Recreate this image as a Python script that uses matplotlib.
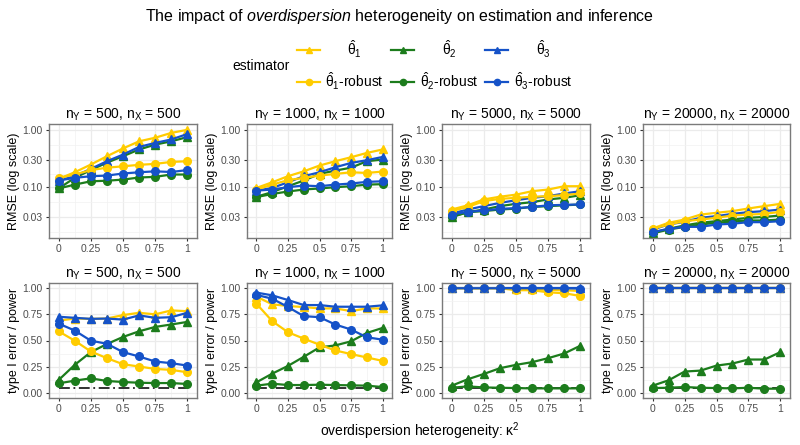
import matplotlib.pyplot as plt
from matplotlib.lines import Line2D
from matplotlib.ticker import FixedLocator, NullFormatter

plt.rcParams["font.family"] = ["Liberation Sans", "DejaVu Sans"]
plt.rcParams["mathtext.fontset"] = "custom"
plt.rcParams["mathtext.rm"] = "Liberation Sans"
plt.rcParams["mathtext.it"] = "Liberation Sans:italic"
plt.rcParams["mathtext.bf"] = "Liberation Sans:bold"

kappa2 = [0, 0.125, 0.25, 0.375, 0.5, 0.625, 0.75, 0.875, 1]
sample_sizes = [500, 1000, 5000, 20000]

estimators = [r"$\hat{\mathrm{\theta}}_1$", r"$\hat{\mathrm{\theta}}_2$", r"$\hat{\mathrm{\theta}}_3$",
              r"$\hat{\mathrm{\theta}}_1$-robust", r"$\hat{\mathrm{\theta}}_2$-robust",
              r"$\hat{\mathrm{\theta}}_3$-robust"]
colors = ["#FFCC00", "#1C7C1C", "#1552C8", "#FFCC00", "#1C7C1C", "#1552C8"]
markers = ["^", "^", "^", "o", "o", "o"]

# RMSE, order: theta1, theta2, theta3, theta1-robust, theta2-robust, theta3-robust
rmse_500 = [
    [0.14, 0.183, 0.25, 0.35, 0.48, 0.64, 0.74, 0.90, 1.02],
    [0.095, 0.146, 0.20, 0.27, 0.35, 0.46, 0.56, 0.64, 0.76],
    [0.131, 0.156, 0.21, 0.286, 0.374, 0.51, 0.60, 0.69, 0.86],
    [0.146, 0.167, 0.20, 0.22, 0.233, 0.247, 0.257, 0.278, 0.286],
    [0.095, 0.111, 0.127, 0.13, 0.136, 0.148, 0.152, 0.167, 0.167],
    [0.131, 0.146, 0.156, 0.16, 0.174, 0.183, 0.19, 0.185, 0.20],
]
rmse_1000 = [
    [0.097, 0.122, 0.156, 0.19, 0.24, 0.286, 0.336, 0.40, 0.46],
    [0.068, 0.082, 0.104, 0.131, 0.171, 0.196, 0.22, 0.286, 0.306],
    [0.087, 0.097, 0.122, 0.156, 0.183, 0.224, 0.267, 0.298, 0.34],
    [0.091, 0.111, 0.133, 0.146, 0.16, 0.171, 0.183, 0.178, 0.188],
    [0.067, 0.076, 0.084, 0.091, 0.095, 0.1, 0.104, 0.111, 0.113],
    [0.087, 0.091, 0.1, 0.107, 0.104, 0.111, 0.116, 0.124, 0.127],
]
rmse_5000 = [
    [0.0405, 0.048, 0.061, 0.068, 0.074, 0.085, 0.091, 0.104, 0.104],
    [0.030, 0.0364, 0.0405, 0.0465, 0.051, 0.0546, 0.061, 0.065, 0.0724],
    [0.0345, 0.0405, 0.0465, 0.053, 0.059, 0.065, 0.0695, 0.0775, 0.085],
    [0.038, 0.045, 0.0568, 0.0624, 0.065, 0.068, 0.0695, 0.0724, 0.0775],
    [0.030, 0.0364, 0.038, 0.0405, 0.042, 0.045, 0.0465, 0.048, 0.0497],
    [0.0331, 0.0369, 0.039, 0.0417, 0.0428, 0.045, 0.048, 0.049, 0.0497],
]
rmse_20000 = [
    [0.0188, 0.0237, 0.027, 0.033, 0.0355, 0.038, 0.0423, 0.0465, 0.051],
    [0.0158, 0.0186, 0.0213, 0.0237, 0.0253, 0.027, 0.029, 0.030, 0.0318],
    [0.018, 0.0221, 0.0247, 0.029, 0.031, 0.034, 0.0364, 0.038, 0.0405],
    [0.0186, 0.0221, 0.0253, 0.027, 0.029, 0.0318, 0.033, 0.034, 0.0369],
    [0.0154, 0.018, 0.0201, 0.0221, 0.0237, 0.025, 0.026, 0.026, 0.027],
    [0.0162, 0.0186, 0.0201, 0.0201, 0.0221, 0.0228, 0.0243, 0.0243, 0.0253],
]

# type I error / power, same order
power_500 = [
    [0.69, 0.71, 0.707, 0.71, 0.743, 0.765, 0.75, 0.788, 0.78],
    [0.122, 0.267, 0.389, 0.466, 0.534, 0.588, 0.63, 0.653, 0.678],
    [0.727, 0.717, 0.707, 0.71, 0.70, 0.74, 0.717, 0.723, 0.765],
    [0.588, 0.498, 0.395, 0.331, 0.273, 0.251, 0.228, 0.219, 0.196],
    [0.09, 0.116, 0.138, 0.113, 0.103, 0.096, 0.093, 0.093, 0.084],
    [0.662, 0.595, 0.498, 0.469, 0.389, 0.347, 0.299, 0.283, 0.26],
]
power_1000 = [
    [0.92, 0.846, 0.83, 0.82, 0.807, 0.807, 0.781, 0.807, 0.807],
    [0.10, 0.183, 0.257, 0.344, 0.434, 0.453, 0.492, 0.572, 0.62],
    [0.958, 0.932, 0.887, 0.839, 0.839, 0.823, 0.823, 0.823, 0.836],
    [0.852, 0.685, 0.579, 0.518, 0.46, 0.405, 0.37, 0.338, 0.305],
    [0.068, 0.087, 0.074, 0.074, 0.077, 0.074, 0.071, 0.068, 0.055],
    [0.936, 0.90, 0.82, 0.733, 0.723, 0.653, 0.605, 0.531, 0.508],
]
power_5000 = [
    [1.0, 1.0, 1.0, 1.0, 0.99, 0.99, 0.984, 0.981, 0.974],
    [0.068, 0.129, 0.18, 0.235, 0.267, 0.293, 0.331, 0.376, 0.45],
    [1.0, 1.0, 1.0, 1.0, 1.0, 1.0, 1.0, 1.0, 1.0],
    [1.0, 1.0, 1.0, 1.0, 0.981, 0.981, 0.961, 0.952, 0.926],
    [0.048, 0.061, 0.051, 0.048, 0.045, 0.042, 0.042, 0.042, 0.042],
    [1.0, 1.0, 1.0, 1.0, 1.0, 1.0, 1.0, 1.0, 0.997],
]
power_20000 = [
    [1.0, 1.0, 1.0, 1.0, 1.0, 1.0, 1.0, 1.0, 1.0],
    [0.068, 0.119, 0.203, 0.212, 0.26, 0.28, 0.318, 0.318, 0.389],
    [1.0, 1.0, 1.0, 1.0, 1.0, 1.0, 1.0, 1.0, 1.0],
    [1.0, 1.0, 1.0, 1.0, 1.0, 1.0, 1.0, 1.0, 1.0],
    [0.045, 0.048, 0.055, 0.048, 0.045, 0.042, 0.048, 0.039, 0.039],
    [1.0, 1.0, 1.0, 1.0, 1.0, 1.0, 1.0, 1.0, 1.0],
]
nominal_level = 0.05

rmse_panels = [rmse_500, rmse_1000, rmse_5000, rmse_20000]
power_panels = [power_500, power_1000, power_5000, power_20000]

W, H = 800, 445
fig = plt.figure(figsize=(W / 100, H / 100), dpi=100)

col_edges = [(49, 197), (247, 392), (442, 590), (643, 790)]
row_edges = {"rmse": (124, 238), "power": (283, 398)}


def make_axes(px_left, px_right, px_top, px_bottom):
    return fig.add_axes([px_left / W, 1 - px_bottom / H,
                         (px_right - px_left) / W, (px_bottom - px_top) / H])


def style_axes(ax, n):
    ax.set_facecolor("white")
    for spine in ax.spines.values():
        spine.set_color("#7a7a7a")
        spine.set_linewidth(1.0)
    ax.grid(True, which="major", color="#EBEBEB", linewidth=0.9)
    ax.grid(True, which="minor", color="#F2F2F2", linewidth=0.5)
    ax.set_axisbelow(True)
    ax.set_xlim(-0.075, 1.075)
    ax.set_xticks([0, 0.25, 0.5, 0.75, 1])
    ax.set_xticklabels(["0", "0.25", "0.5", "0.75", "1"])
    ax.xaxis.set_minor_locator(FixedLocator([0.125, 0.375, 0.625, 0.875]))
    ax.tick_params(which="major", length=2.5, width=0.8, color="#333333",
                   labelsize=7.5, labelcolor="#4D4D4D", pad=2)
    ax.tick_params(which="minor", length=0)
    ax.set_title(rf"n$_\mathrm{{Y}}$ = {n}, n$_\mathrm{{X}}$ = {n}", fontsize=10, pad=4)


for j, n in enumerate(sample_sizes):
    left, right = col_edges[j]

    ax = make_axes(left, right, *row_edges["rmse"])
    for k in range(6):
        ax.plot(kappa2, rmse_panels[j][k], color=colors[k], marker=markers[k],
                markersize=5.5, linewidth=1.6)
    ax.set_yscale("log")
    ax.set_ylim(0.0128, 1.29)
    ax.yaxis.set_major_locator(FixedLocator([0.03, 0.1, 0.3, 1.0]))
    ax.set_yticklabels(["0.03", "0.10", "0.30", "1.00"])
    ax.yaxis.set_minor_locator(FixedLocator([0.0164, 0.0548, 0.173, 0.548]))
    ax.yaxis.set_minor_formatter(NullFormatter())
    style_axes(ax, n)
    ax.set_ylabel("RMSE (log scale)", fontsize=9, labelpad=2)

    ax = make_axes(left, right, *row_edges["power"])
    ax.plot([0, 1], [nominal_level, nominal_level], color="#222222",
            linestyle=(0, (6, 2, 1, 2)), linewidth=1.3)
    for k in range(6):
        ax.plot(kappa2, power_panels[j][k], color=colors[k], marker=markers[k],
                markersize=5.5, linewidth=1.6)
    ax.set_ylim(-0.05, 1.05)
    ax.set_yticks([0, 0.25, 0.5, 0.75, 1])
    ax.set_yticklabels(["0.00", "0.25", "0.50", "0.75", "1.00"])
    ax.yaxis.set_minor_locator(FixedLocator([0.125, 0.375, 0.625, 0.875]))
    style_axes(ax, n)
    ax.set_ylabel("type I error / power", fontsize=9, labelpad=2)

fig.text(0.5, 1 - 16 / H,
         r"The impact of $\mathit{overdispersion}$ heterogeneity on estimation and inference",
         ha="center", va="center", fontsize=11.5)
fig.text(420 / W, 1 - 431 / H, r"overdispersion heterogeneity: κ$^2$",
         ha="center", va="center", fontsize=10)

# legend: title on the left, 3 columns x 2 rows, labels centred
leg = fig.add_axes([0, 0, 1, 1])
leg.set_xlim(0, W)
leg.set_ylim(H, 0)
leg.axis("off")
leg.text(232, 66, "estimator", ha="left", va="center", fontsize=10)
key_x = [297, 391, 485]
label_x = [354, 449, 543]
row_y = [50, 82]
for k in range(6):
    col, row = k % 3, k // 3
    leg.add_line(Line2D([key_x[col], key_x[col] + 23], [row_y[row], row_y[row]],
                        color=colors[k], linewidth=1.6))
    leg.add_line(Line2D([key_x[col] + 11.5], [row_y[row]], color=colors[k],
                        marker=markers[k], markersize=4.5, linestyle="none"))
    leg.text(label_x[col], row_y[row] - 1, estimators[k], ha="center",
             va="center", fontsize=10)

fig.savefig("out.png", dpi=100, facecolor="white")
